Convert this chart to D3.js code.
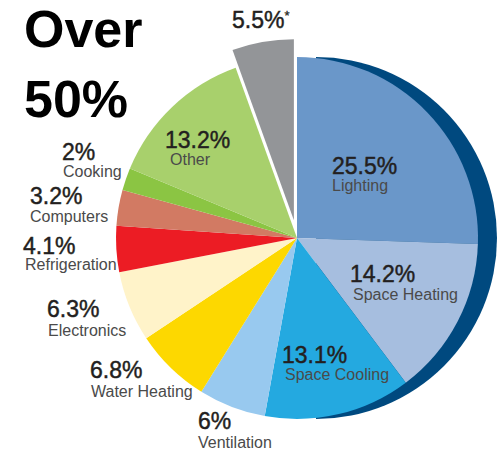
<!DOCTYPE html>
<html>
<head>
<meta charset="utf-8">
<script src="https://cdn.jsdelivr.net/npm/d3@7/dist/d3.min.js"></script>
<style>
  html, body { margin: 0; padding: 0; background: #fff; }
  svg { display: block; }
</style>
</head>
<body>
<svg id="chart" width="502" height="453"></svg>
<script>
// Share of electricity use by end use (slices run clockwise from 12 o'clock)
const categories = ["Lighting", "Space Heating", "Space Cooling", "Ventilation", "Water Heating",
                    "Electronics", "Refrigeration", "Computers", "Cooking", "Other", ""];
const shares = [25.5, 14.2, 13.1, 6, 6.8, 6.3, 4.1, 3.2, 2, 13.2, 5.5];
const shareLabels = ["25.5%", "14.2%", "13.1%", "6%", "6.8%", "6.3%", "4.1%", "3.2%", "2%", "13.2%", "5.5%"];
const headline = ["Over", "50%"];

// Styling and label placement
const colors = ["#6a97c9", "#a6bedf", "#24a9e0", "#98c9ef", "#fdd800", "#fff3c9",
                "#ec1c24", "#d27a63", "#8bc543", "#a8d06c", "#939598"];
const labelPos = [
  [[332, 174], [332, 191]],
  [[350, 282], [353, 300]],
  [[282, 363], [285, 380]],
  [[198, 429], [198, 448]],
  [[90, 378],  [91, 397]],
  [[47, 317],  [48, 336]],
  [[23, 254],  [25, 270]],
  [[30, 204],  [30, 222]],
  [[62, 160],  [63, 177]],
  [[165, 148], [170, 165]],
  [[232, 28],  null]
];
const explodedIndex = 10;

const svg = d3.select("#chart");
const cx = 297, cy = 238, radius = 181;
const rimShift = 19;

const data = categories.map((c, i) => ({ name: c, value: shares[i], label: shareLabels[i], color: colors[i], i }));

const pie = d3.pie().sort(null).value(d => d.value).startAngle(0).endAngle(2 * Math.PI);
const arcs = pie(data);
const arc = d3.arc().innerRadius(0).outerRadius(radius);

// Dark rim giving the right half of the disc some depth
svg.append("path")
  .attr("transform", `translate(${cx + rimShift},${cy})`)
  .attr("d", d3.arc().innerRadius(0).outerRadius(radius)({ startAngle: 0, endAngle: Math.PI }))
  .attr("fill", "#00497f");

const g = svg.append("g").attr("transform", `translate(${cx},${cy})`);

g.selectAll("path.slice")
  .data(arcs)
  .join("path")
  .attr("class", "slice")
  .attr("d", arc)
  .attr("fill", d => d.data.color)
  .attr("transform", d => {
    if (d.data.i !== explodedIndex) return null;
    const mid = (d.startAngle + d.endAngle) / 2;
    const off = 18;
    return `translate(${off * Math.sin(mid)},${-off * Math.cos(mid)})`;
  });

// Value and name labels
const labels = svg.append("g").attr("font-family", "'Liberation Sans', Arial, Helvetica, sans-serif");
arcs.forEach(d => {
  const [pPos, nPos] = labelPos[d.data.i];
  const t = labels.append("text")
    .attr("x", pPos[0]).attr("y", pPos[1])
    .attr("font-size", 23)
    .attr("fill", "#231f20")
    .attr("stroke", "#231f20").attr("stroke-width", 0.45)
    .text(d.data.label);
  if (d.data.i === explodedIndex) {
    t.append("tspan").attr("font-size", 13).attr("dy", -8).attr("stroke-width", 0.3).text("*");
  }
  if (nPos) {
    labels.append("text")
      .attr("x", nPos[0]).attr("y", nPos[1])
      .attr("font-size", 16)
      .attr("fill", "#4a4a4a")
      .text(d.data.name);
  }
});

// Headline
const head = svg.append("g")
  .attr("font-family", "'Liberation Sans', Arial, sans-serif")
  .attr("font-weight", "bold")
  .attr("font-size", 52)
  .attr("fill", "#000");
headline.forEach((line, k) => {
  head.append("text").attr("x", 24).attr("y", 47 + k * 70).text(line);
});
</script>
</body>
</html>
